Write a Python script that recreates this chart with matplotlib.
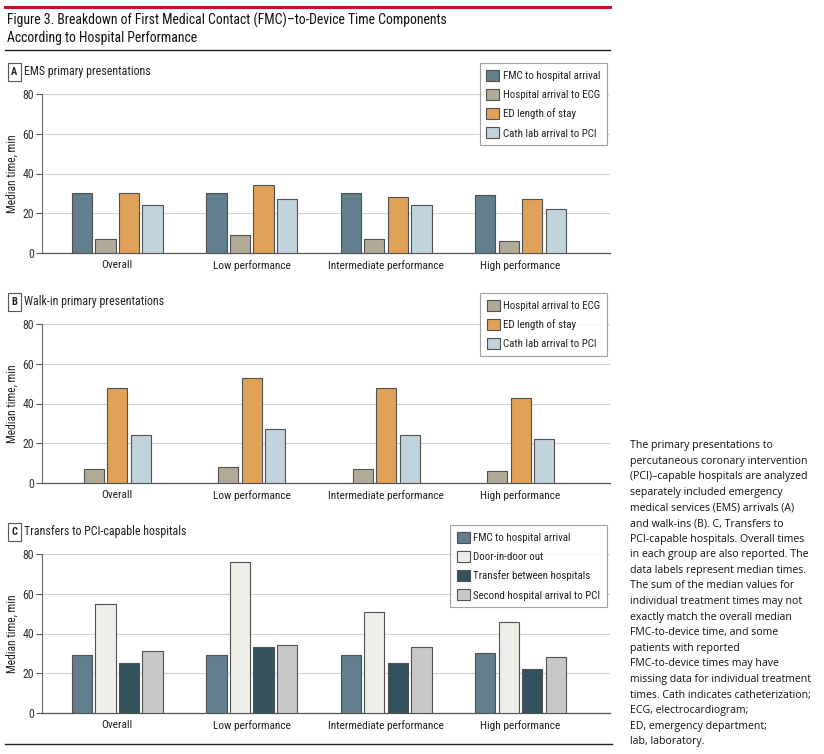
import matplotlib
matplotlib.use("Agg")
import matplotlib.pyplot as plt
from matplotlib.patches import Patch
from matplotlib.lines import Line2D
from matplotlib import font_manager
import numpy as np

_names = {f.name for f in font_manager.fontManager.ttflist}
_cands = ["Liberation Sans Narrow", "Roboto Condensed", "DejaVu Sans Condensed",
          "Noto Sans Condensed", "Open Sans Condensed", "Roboto"]
FONT = next((c for c in _cands if c in _names), "DejaVu Sans")
STRETCH = "normal"
if FONT == "Roboto":
    if any(f.name == "DejaVu Sans" and str(f.stretch) in ("condensed", "semi-condensed")
           for f in font_manager.fontManager.ttflist):
        FONT = "DejaVu Sans"
        STRETCH = "condensed"
plt.rcParams['font.family'] = [FONT, 'DejaVu Sans']
plt.rcParams['font.stretch'] = STRETCH

categories = ["Overall", "Low performance", "Intermediate performance", "High performance"]

# Panel A: EMS primary presentations
a_labels = ["FMC to hospital arrival", "Hospital arrival to ECG", "ED length of stay", "Cath lab arrival to PCI"]
a_fmc = [30, 30, 30, 29]
a_ecg = [7, 9, 7, 6]
a_ed = [30, 34, 28, 27]
a_cath = [24, 27, 24, 22]

# Panel B: Walk-in primary presentations
b_labels = ["Hospital arrival to ECG", "ED length of stay", "Cath lab arrival to PCI"]
b_ecg = [7, 8, 7, 6]
b_ed = [48, 53, 48, 43]
b_cath = [24, 27, 24, 22]

# Panel C: Transfers to PCI-capable hospitals
c_labels = ["FMC to hospital arrival", "Door-in-door out", "Transfer between hospitals", "Second hospital arrival to PCI"]
c_fmc = [29, 29, 29, 30]
c_dido = [55, 76, 51, 46]
c_transfer = [25, 33, 25, 22]
c_second = [31, 34, 33, 28]

yticks = [0, 20, 40, 60, 80]

COL = {
    "FMC to hospital arrival": "#637f8d",
    "Hospital arrival to ECG": "#b1aa98",
    "ED length of stay": "#dfa258",
    "Cath lab arrival to PCI": "#c1d3dc",
    "Door-in-door out": "#eeeee8",
    "Transfer between hospitals": "#34525d",
    "Second hospital arrival to PCI": "#c7c8ca",
}
EDGE = "#505050"

W, H = 824, 754
fig = plt.figure(figsize=(W / 100, H / 100), dpi=100)


def fx(px):
    return px / W


def fy(py):
    return 1 - py / H


# Header lines and title
fig.add_artist(Line2D([fx(5), fx(610)], [fy(7), fy(7)], color="#c8102e", lw=2.2))
fig.add_artist(Line2D([fx(5), fx(610)], [fy(50), fy(50)], color="#222222", lw=1.0))
fig.add_artist(Line2D([fx(5), fx(612)], [fy(744), fy(744)], color="#222222", lw=1.0))
fig.text(fx(7), fy(20), "Figure 3. Breakdown of First Medical Contact (FMC)\u2013to-Device Time Components",
         fontsize=9.9, va="center", ha="left", color="#111111")
fig.text(fx(7), fy(38), "According to Hospital Performance",
         fontsize=9.9, va="center", ha="left", color="#111111")

caption = ("The primary presentations to\n"
           "percutaneous coronary intervention\n"
           "(PCI)\u2013capable hospitals are analyzed\n"
           "separately included emergency\n"
           "medical services (EMS) arrivals (A)\n"
           "and walk-ins (B). C, Transfers to\n"
           "PCI-capable hospitals. Overall times\n"
           "in each group are also reported. The\n"
           "data labels represent median times.\n"
           "The sum of the median values for\n"
           "individual treatment times may not\n"
           "exactly match the overall median\n"
           "FMC-to-device time, and some\n"
           "patients with reported\n"
           "FMC-to-device times may have\n"
           "missing data for individual treatment\n"
           "times. Cath indicates catheterization;\n"
           "ECG, electrocardiogram;\n"
           "ED, emergency department;\n"
           "lab, laboratory.")
fig.text(fx(630), fy(440), caption, family=["Open Sans", "DejaVu Sans"], stretch="normal",
         fontsize=7.6, va="top", ha="left", linespacing=1.575, color="#111111")


def panel(zero_py, letter, title, series, labels, legend_top, legend_right):
    top_py = zero_py - 159
    ax = fig.add_axes([fx(42), fy(zero_py), fx(610) - fx(42), (zero_py - top_py) / H])
    n = len(series)
    step = 0.175
    width = 0.150
    x = np.arange(len(categories))
    for i, (vals, lab) in enumerate(zip(series, labels)):
        off = (i - (n - 1) / 2) * step
        ax.bar(x + off, vals, width=width, color=COL[lab], edgecolor=EDGE, linewidth=0.8, zorder=3)
    ax.set_xlim(-0.56, 3.665)
    ax.set_ylim(0, 80)
    ax.set_yticks(yticks)
    ax.set_yticklabels([str(v) for v in yticks], fontsize=8.6, color="#333333")
    ax.set_xticks(x)
    ax.set_xticklabels(categories, fontsize=8.2, color="#222222")
    ax.tick_params(axis="x", length=0, pad=5)
    ax.tick_params(axis="y", length=4, width=0.8, color="#555555", pad=1.5)
    ax.grid(axis="y", color="#d4d4d4", lw=0.8, zorder=0)
    for s in ["top", "right"]:
        ax.spines[s].set_visible(False)
    ax.spines["left"].set_color("#666666")
    ax.spines["left"].set_linewidth(0.8)
    ax.spines["bottom"].set_color("#555555")
    ax.spines["bottom"].set_linewidth(0.9)
    ax.set_ylabel("Median time, min", fontsize=8.4, color="#222222")
    ax.yaxis.set_label_coords((19 - 42) / 568, 0.5)

    # panel letter and subtitle
    ly = top_py - 22
    fig.text(fx(14.5), fy(ly), letter, fontsize=7.5, fontweight="bold", ha="center", va="center",
             color="#222222",
             bbox=dict(boxstyle="square,pad=0.35", fc="white", ec="#555555", lw=0.8))
    fig.text(fx(24), fy(ly), title, fontsize=8.6, ha="left", va="center", color="#222222")

    handles = [Patch(facecolor=COL[l], edgecolor=EDGE, linewidth=0.8, label=l) for l in labels]
    leg = fig.legend(handles=handles, loc="upper right",
                     bbox_to_anchor=(fx(legend_right), fy(legend_top)),
                     fontsize=7.8, frameon=True, fancybox=False, borderpad=0.62,
                     handlelength=1.2, handleheight=1.2, handletextpad=0.32,
                     labelspacing=0.74, borderaxespad=0)
    leg.get_frame().set_edgecolor("#888888")
    leg.get_frame().set_linewidth(0.8)
    for t in leg.get_texts():
        t.set_color("#222222")
    return ax


panel(253, "A", "EMS primary presentations", [a_fmc, a_ecg, a_ed, a_cath], a_labels, 63, 607)
panel(483, "B", "Walk-in primary presentations", [b_ecg, b_ed, b_cath], b_labels, 293, 607)
panel(713, "C", "Transfers to PCI-capable hospitals", [c_fmc, c_dido, c_transfer, c_second], c_labels, 525, 607)

fig.savefig("out.png", dpi=100)
